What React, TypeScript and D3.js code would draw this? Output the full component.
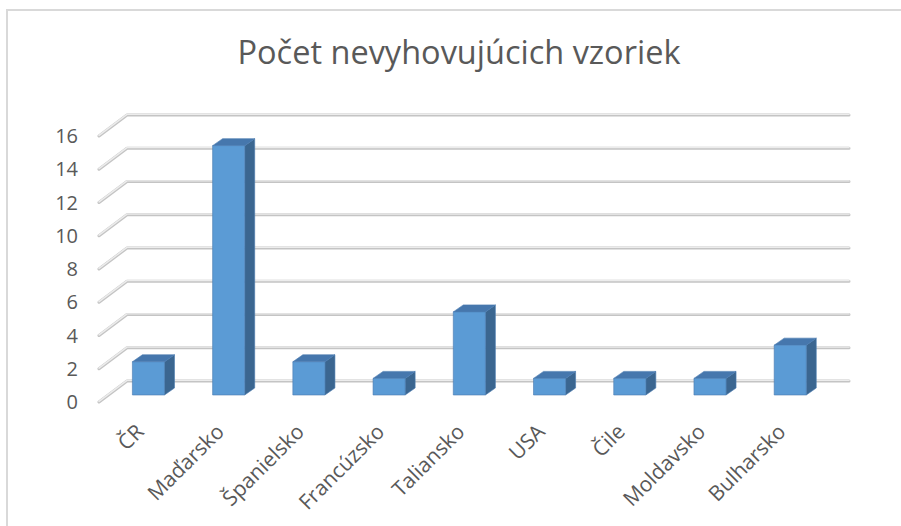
import React from 'react';
import * as d3 from 'd3';

const categories = ['ČR', 'Maďarsko', 'Španielsko', 'Francúzsko', 'Taliansko', 'USA', 'Čile', 'Moldavsko', 'Bulharsko'];
const values = [2, 15, 2, 1, 5, 1, 1, 1, 3];
const yTicks = [0, 2, 4, 6, 8, 10, 12, 14, 16];
const title = 'Počet nevyhovujúcich vzoriek';

const W = 901;
const H = 526;
// depth of the 3d floor (front -> back wall)
const DX = 28;
const DY = -21;
const FRONT_T = 1 / 3; // bar front face inside the floor depth
const BAR_DX = 10;
const BAR_DY = -7;

const textColor = '#595959';
const font = '"Open Sans", "Noto Sans", sans-serif';

const App = () => {
  const x = d3.scaleBand().domain(categories).range([99, 821]).paddingInner(0.6).paddingOuter(0.3);
  const y = d3.scaleLinear().domain([0, 16]).range([402, 136]);
  const bw = x.bandwidth();

  return (
    <svg width={W} height={H} style={{ position: 'absolute', left: 0, top: 0, background: '#fff' }}>
      <rect x={7} y={10} width={W + 10} height={H + 10} fill="#fff" stroke="#d9d9d9" strokeWidth={2} />
      <text x={459} y={64} textAnchor="middle" fill={textColor} fontFamily={font} fontSize={32.5}>{title}</text>

      {/* grid: side wall diagonals + back wall lines */}
      <g fill="none">
        {yTicks.map(t => {
          const fy = y(t);
          const pts = `${99},${fy} ${99 + DX},${fy + DY} ${849},${fy + DY}`;
          return <g key={t}>
            <polyline points={pts} stroke="#c4c4c4" strokeWidth={3} strokeLinejoin="round" strokeLinecap="round" />
            <polyline points={pts} stroke="#ececec" strokeWidth={1.4} strokeLinejoin="round" strokeLinecap="round" transform="translate(0,-0.6)" />
          </g>;
        })}
      </g>

      <g fontFamily={font} fontSize={20} fill={textColor}>
        {yTicks.map(t => (
          <text key={t} x={78} y={y(t)} dy="0.35em" textAnchor="end">{t}</text>
        ))}
      </g>

      {/* bars */}
      <g>
        {categories.map((c, i) => {
          const x0 = (x(c) as number) + FRONT_T * DX;
          const x1 = x0 + bw;
          const yb = y(0) + FRONT_T * DY;
          const yt = y(values[i]) + FRONT_T * DY;
          const top = `${x0},${yt} ${x0 + BAR_DX},${yt + BAR_DY} ${x1 + BAR_DX},${yt + BAR_DY} ${x1},${yt}`;
          const side = `${x1},${yt} ${x1 + BAR_DX},${yt + BAR_DY} ${x1 + BAR_DX},${yb + BAR_DY} ${x1},${yb}`;
          return <g key={c} stroke="#4a7ab0" strokeWidth={0.6} strokeLinejoin="round">
            <polygon points={side} fill="#3b6690" />
            <polygon points={top} fill="#4677ad" />
            <rect x={x0} y={yt} width={bw} height={yb - yt} fill="#5b9bd5" />
          </g>;
        })}
      </g>

      <g fontFamily={font} fontSize={21} fill={textColor}>
        {categories.map(c => {
          const cx = (x(c) as number) + bw / 2 + 6;
          return <text key={c} textAnchor="end" transform={`translate(${cx},433) rotate(-45)`}>{c}</text>;
        })}
      </g>
    </svg>
  );
};

export default App;
